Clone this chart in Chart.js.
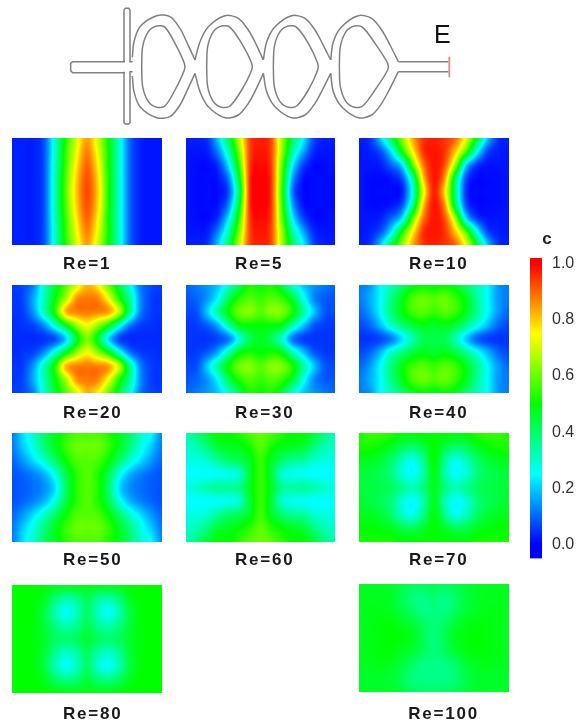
<!DOCTYPE html>
<html><head><meta charset="utf-8">
<script src="https://cdn.jsdelivr.net/npm/chart.js@4"></script>
<style>
html,body{margin:0;padding:0;background:#fff;width:583px;height:726px;overflow:hidden}
#wrap{position:relative;width:583px;height:726px;filter:blur(0.6px)}
.box{position:absolute}
canvas{display:block}
</style></head><body><div id="wrap"></div>
<script>
const colorStops=[0,0.25,0.5,0.75,1];
const colorRGB=[[0,0,255],[0,255,255],[0,255,0],[255,255,0],[255,0,0]];
const colorbarTicks=[0,0.2,0.4,0.6,0.8,1];

const re1=[
[.03,.03,.03,.08,.30,.52,.70,.84,.70,.50,.30,.10,.03,.02,.02],
[.03,.03,.03,.08,.30,.54,.73,.87,.73,.51,.30,.10,.03,.02,.02],
[.03,.03,.03,.08,.31,.55,.76,.90,.76,.51,.30,.10,.03,.02,.02],
[.03,.03,.03,.08,.32,.57,.79,.92,.79,.52,.30,.10,.03,.02,.02],
[.03,.03,.03,.08,.32,.58,.80,.93,.80,.52,.30,.10,.03,.02,.02],
[.03,.03,.03,.08,.32,.57,.79,.92,.79,.52,.30,.10,.03,.02,.02],
[.03,.03,.03,.08,.31,.55,.76,.90,.76,.51,.30,.10,.03,.02,.02],
[.03,.03,.03,.08,.30,.54,.73,.87,.73,.51,.30,.10,.03,.02,.02],
[.03,.03,.03,.08,.30,.52,.70,.84,.70,.50,.30,.10,.03,.02,.02]];
const re5=[
[.03,.03,.05,.20,.42,.68,.93,.97,.93,.66,.42,.25,.07,.03,.03],
[.02,.02,.03,.13,.33,.62,.93,.98,.93,.65,.35,.17,.04,.02,.02],
[.02,.01,.01,.05,.23,.55,.94,.99,.94,.60,.25,.07,.01,.01,.02],
[.02,.01,.01,.02,.13,.47,.95,1,.95,.57,.17,.02,.01,.01,.01],
[.02,.01,.01,.01,.08,.42,.95,1,.95,.55,.12,.01,.01,.01,.01],
[.02,.01,.01,.02,.13,.47,.95,1,.95,.57,.17,.02,.01,.01,.01],
[.02,.01,.01,.05,.23,.55,.94,.99,.94,.60,.25,.07,.01,.01,.02],
[.02,.02,.03,.13,.33,.62,.93,.98,.93,.65,.35,.17,.04,.02,.02],
[.03,.03,.05,.20,.42,.68,.93,.97,.93,.66,.42,.25,.07,.03,.03]];
const re10=[
[.03,.05,.20,.42,.63,.83,.95,.97,.95,.90,.72,.47,.20,.05,.03],
[.02,.03,.08,.23,.50,.75,.95,.98,.95,.80,.57,.27,.07,.03,.02],
[.02,.02,.03,.10,.22,.58,.88,.98,.92,.65,.22,.06,.02,.02,.02],
[.02,.01,.01,.02,.08,.35,.80,.98,.85,.42,.08,.01,.01,.01,.02],
[.02,.01,.01,.01,.03,.28,.72,.97,.78,.38,.05,.01,.01,.01,.02],
[.02,.01,.01,.02,.08,.35,.80,.98,.85,.42,.08,.01,.01,.01,.02],
[.02,.02,.03,.10,.22,.58,.88,.98,.92,.65,.22,.06,.02,.02,.02],
[.02,.03,.08,.23,.50,.75,.95,.98,.95,.80,.57,.27,.07,.03,.02],
[.03,.05,.20,.42,.63,.83,.95,.97,.95,.90,.72,.47,.20,.05,.03]];
const re20=[
[.06,.07,.13,.30,.45,.58,.70,.82,.76,.60,.45,.28,.12,.07,.06],
[.05,.07,.17,.32,.49,.66,.85,.88,.87,.74,.53,.35,.14,.06,.05],
[.05,.06,.15,.32,.52,.81,.87,.88,.87,.84,.68,.36,.13,.06,.05],
[.04,.05,.07,.14,.29,.47,.64,.74,.64,.50,.29,.12,.06,.05,.04],
[.04,.04,.04,.05,.08,.20,.45,.62,.47,.22,.07,.04,.04,.04,.04],
[.04,.05,.07,.14,.29,.47,.64,.74,.64,.50,.29,.12,.06,.05,.04],
[.05,.06,.15,.32,.52,.81,.87,.88,.87,.84,.68,.36,.13,.06,.05],
[.05,.07,.17,.32,.49,.66,.85,.88,.87,.74,.53,.35,.14,.06,.05],
[.06,.07,.13,.30,.45,.58,.70,.82,.76,.60,.45,.28,.12,.07,.06]];
const re30=[
[.10,.12,.15,.20,.30,.42,.52,.50,.52,.45,.30,.20,.15,.12,.10],
[.08,.10,.15,.25,.42,.53,.58,.55,.58,.55,.45,.28,.14,.09,.08],
[.07,.08,.20,.35,.50,.60,.63,.58,.63,.62,.52,.35,.20,.09,.07],
[.05,.06,.09,.17,.33,.48,.50,.50,.50,.48,.33,.20,.09,.06,.05],
[.05,.05,.05,.07,.12,.28,.42,.47,.42,.30,.12,.06,.05,.05,.05],
[.05,.06,.09,.17,.33,.48,.52,.50,.52,.48,.33,.20,.09,.06,.05],
[.07,.08,.20,.35,.50,.60,.63,.58,.63,.62,.52,.35,.20,.09,.07],
[.08,.10,.15,.25,.42,.53,.58,.55,.58,.55,.45,.28,.14,.09,.08],
[.10,.12,.15,.20,.30,.42,.52,.50,.52,.45,.30,.20,.15,.12,.10]];
const re40=[
[.12,.15,.25,.32,.40,.47,.50,.48,.50,.47,.40,.32,.25,.15,.12],
[.12,.17,.25,.37,.47,.57,.60,.58,.60,.55,.47,.35,.25,.15,.12],
[.10,.15,.25,.38,.48,.56,.58,.55,.58,.55,.47,.36,.25,.15,.10],
[.07,.10,.18,.30,.38,.44,.48,.46,.48,.44,.36,.27,.18,.10,.07],
[.05,.05,.07,.12,.22,.33,.42,.43,.42,.33,.20,.10,.06,.05,.05],
[.07,.10,.18,.30,.38,.44,.48,.46,.48,.44,.36,.27,.18,.10,.07],
[.10,.15,.25,.38,.48,.56,.58,.55,.58,.55,.47,.36,.25,.15,.10],
[.12,.17,.25,.37,.47,.57,.60,.58,.60,.55,.47,.35,.25,.15,.12],
[.12,.15,.25,.32,.40,.47,.50,.48,.50,.47,.40,.32,.25,.15,.12]];
const re50=[
[.12,.22,.30,.40,.47,.53,.57,.57,.57,.53,.47,.40,.30,.25,.13],
[.12,.20,.28,.38,.47,.55,.60,.60,.60,.55,.47,.38,.28,.20,.12],
[.10,.15,.22,.30,.40,.50,.57,.58,.57,.50,.40,.30,.22,.15,.10],
[.08,.10,.13,.18,.28,.43,.53,.58,.53,.43,.28,.18,.13,.10,.08],
[.08,.09,.11,.14,.22,.40,.53,.58,.53,.40,.22,.14,.11,.09,.08],
[.08,.10,.13,.18,.28,.43,.53,.58,.53,.43,.28,.18,.13,.10,.08],
[.10,.15,.22,.30,.40,.50,.57,.58,.57,.50,.40,.30,.22,.15,.10],
[.12,.20,.28,.38,.47,.55,.60,.60,.60,.55,.47,.38,.28,.20,.12],
[.12,.22,.30,.40,.47,.53,.57,.57,.57,.53,.47,.40,.30,.25,.13]];
const re60=[
[.33,.38,.45,.50,.50,.53,.57,.60,.57,.53,.50,.50,.45,.38,.33],
[.30,.33,.38,.45,.47,.48,.52,.58,.52,.48,.47,.45,.38,.33,.30],
[.28,.28,.30,.35,.40,.42,.47,.55,.47,.40,.36,.35,.30,.28,.28],
[.25,.25,.25,.26,.27,.30,.45,.55,.45,.30,.27,.26,.25,.25,.25],
[.28,.30,.33,.35,.35,.37,.47,.55,.47,.36,.34,.35,.33,.30,.28],
[.25,.25,.25,.26,.27,.30,.45,.55,.45,.30,.27,.26,.25,.25,.25],
[.28,.28,.30,.35,.40,.42,.47,.56,.47,.40,.36,.35,.30,.28,.28],
[.30,.33,.38,.45,.47,.50,.54,.59,.54,.50,.47,.45,.38,.33,.30],
[.33,.38,.45,.50,.50,.54,.58,.60,.58,.54,.50,.50,.45,.38,.33]];
const re70=[
[.52,.55,.55,.53,.50,.50,.50,.50,.50,.50,.50,.53,.55,.55,.52],
[.52,.52,.50,.47,.42,.40,.44,.50,.44,.40,.42,.47,.50,.52,.52],
[.48,.47,.45,.40,.32,.27,.36,.50,.36,.27,.32,.40,.45,.47,.48],
[.45,.44,.42,.38,.29,.25,.34,.48,.34,.25,.29,.38,.42,.44,.45],
[.45,.44,.43,.41,.36,.32,.38,.47,.38,.32,.36,.41,.43,.44,.45],
[.46,.44,.42,.38,.29,.25,.33,.47,.33,.25,.29,.38,.42,.44,.46],
[.48,.47,.45,.40,.31,.27,.37,.49,.37,.27,.32,.40,.45,.47,.48],
[.50,.50,.49,.47,.43,.42,.46,.50,.46,.42,.43,.47,.49,.50,.50],
[.52,.52,.52,.52,.50,.50,.50,.50,.50,.50,.50,.52,.52,.52,.52]];
const re80=[
[.50,.50,.50,.50,.48,.48,.48,.48,.48,.48,.48,.50,.50,.50,.50],
[.50,.50,.50,.47,.39,.34,.36,.42,.36,.34,.39,.47,.50,.50,.50],
[.50,.50,.49,.44,.33,.26,.31,.40,.31,.26,.33,.44,.49,.50,.50],
[.50,.50,.49,.45,.38,.33,.36,.42,.36,.33,.38,.45,.49,.50,.50],
[.50,.50,.49,.46,.41,.39,.41,.45,.41,.39,.41,.46,.49,.50,.50],
[.50,.50,.49,.45,.36,.31,.34,.41,.34,.31,.36,.45,.49,.50,.50],
[.50,.50,.49,.44,.33,.26,.31,.40,.30,.26,.33,.44,.49,.50,.50],
[.50,.50,.50,.47,.41,.37,.39,.44,.39,.37,.41,.47,.50,.50,.50],
[.50,.50,.50,.50,.49,.48,.48,.48,.48,.48,.49,.50,.50,.50,.50]];
const re100=[
[.47,.47,.47,.46,.44,.41,.41,.42,.41,.43,.45,.47,.47,.47,.47],
[.47,.47,.47,.46,.42,.38,.37,.39,.37,.40,.44,.46,.47,.47,.47],
[.47,.48,.48,.47,.44,.40,.37,.38,.37,.41,.45,.47,.48,.48,.47],
[.47,.48,.49,.49,.47,.45,.41,.38,.41,.45,.48,.49,.49,.48,.47],
[.47,.48,.49,.50,.49,.47,.42,.38,.42,.47,.49,.50,.49,.48,.47],
[.47,.48,.49,.49,.47,.45,.41,.38,.41,.45,.48,.49,.49,.48,.47],
[.47,.47,.48,.47,.44,.40,.37,.37,.37,.40,.45,.47,.48,.47,.47],
[.46,.46,.46,.45,.42,.38,.37,.37,.37,.39,.43,.46,.46,.46,.46],
[.46,.46,.46,.46,.44,.41,.40,.40,.40,.42,.44,.46,.46,.46,.46]];

const panelLabels=['Re=1','Re=5','Re=10','Re=20','Re=30','Re=40','Re=50','Re=60','Re=70','Re=80','Re=100'];
const panelValues=[re1,re5,re10,re20,re30,re40,re50,re60,re70,re80,re100];
const panelLeft=[12,186,359,12,186,359,12,186,359,12,359];
const panelTop=[138,138,138,285,285,285,433,433,433,585,584];
const panelWidth=[150,149,150,150,149,150,150,149,150,150,150];
const panelHeight=[107,107,107,108,108,108,109,109,109,108,108];
// label anchor in each panel's axis units (x: 0..14, y: 0..8)
const labelCol=[4.76,4.6,4.67,4.76,4.6,4.67,4.76,4.6,4.67,4.76,4.6];
const labelRow=[9.42,9.42,9.42,9.48,9.48,9.48,9.32,9.32,9.32,9.56,9.63];

// schematic outline, in its own axis units
const inletPath=[[225,185],[68,185],[62,190],[62,212],[68,218],[225,218]];
const barTop=[[222,185],[222,30],[226,25],[236,25],[240,30],[240,185],[248,185]];
const barBottom=[[222,215],[222,368],[226,372],[236,372],[240,368],[240,215],[248,215]];
const outletPath=[[1045,185],[1195,185]];
const outletPath2=[[1045,215],[1195,215]];
const lobeT1=[[247,172],[252,125],[270,80],[320,47],[360,50],[390,85],[412,130],[435,180]];
const lobeT2=[[435,180],[450,125],[475,80],[525,47],[565,55],[595,90],[617,130],[640,180]];
const lobeT3=[[640,180],[650,125],[675,80],[725,47],[765,55],[795,90],[817,130],[842,180]];
const lobeT4=[[842,180],[850,125],[875,80],[925,47],[965,55],[995,90],[1020,135],[1045,185]];
const lobeB1=[[247,228],[252,275],[270,320],[320,353],[360,350],[390,315],[412,270],[435,220]];
const lobeB2=[[435,220],[450,275],[475,320],[525,353],[565,345],[595,310],[617,270],[640,220]];
const lobeB3=[[640,220],[650,275],[675,320],[725,353],[765,345],[795,310],[817,270],[842,220]];
const lobeB4=[[842,220],[850,275],[875,320],[925,353],[965,345],[995,310],[1020,265],[1045,215]];
const loop1=[[275,200],[278,140],[295,95],[320,78],[345,82],[375,130],[403,190],[403,210],[375,270],[345,318],[320,322],[295,305],[278,260],[275,200]];
const loop2=[[470,200],[473,140],[490,95],[515,78],[540,82],[575,130],[605,190],[605,210],[575,270],[540,318],[515,322],[490,305],[473,260],[470,200]];
const loop3=[[670,200],[673,140],[690,95],[715,78],[740,82],[775,130],[803,190],[803,210],[775,270],[740,318],[715,322],[690,305],[673,260],[670,200]];
const loop4=[[868,200],[871,140],[888,95],[913,78],[938,82],[975,130],[1013,190],[1013,210],[975,270],[938,318],[913,322],[888,305],[871,260],[868,200]];
const outletMark=[[1198,170],[1198,232]];
const outletLabel={text:'E',x:1177,y:108};

const wrap=document.getElementById('wrap');
function mk(l,t,w,h){
  const d=document.createElement('div');d.className='box';
  d.style.cssText=`left:${l}px;top:${t}px;width:${w}px;height:${h}px`;
  const c=document.createElement('canvas');c.width=w;c.height=h;c.style.width=w+'px';c.style.height=h+'px';
  d.appendChild(c);wrap.appendChild(d);return c;
}
function cmap(v){
  v=Math.max(0,Math.min(1,v));
  let i=0;while(i<colorStops.length-2&&v>colorStops[i+1])i++;
  const f=(v-colorStops[i])/(colorStops[i+1]-colorStops[i]);
  return colorRGB[i].map((a,k)=>Math.round(a+(colorRGB[i+1][k]-a)*f));
}
function catmull(a,b,c,d,t){return 0.5*(2*b+(c-a)*t+(2*a-5*b+4*c-d)*t*t+(3*b-a-3*c+d)*t*t*t);}
function sample(g,u,v){
  const R=g.length,C=g[0].length;
  const j=Math.min(R-2,Math.max(0,Math.floor(v))),i=Math.min(C-2,Math.max(0,Math.floor(u)));
  const tx=u-i,ty=v-j,row=[];
  for(let k=-1;k<=2;k++){
    const r=g[Math.max(0,Math.min(R-1,j+k))];
    row.push(catmull(r[Math.max(0,i-1)],r[i],r[i+1],r[Math.min(C-1,i+2)],tx));
  }
  return catmull(row[0],row[1],row[2],row[3],ty);
}
const fieldPlugin={id:'field',
  afterDatasetsDraw(ch){
    const a=ch.chartArea,o=ch.config.options,g=o.fieldGrid;
    const W=Math.round(a.right-a.left),H=Math.round(a.bottom-a.top);
    const off=document.createElement('canvas');off.width=W;off.height=H;
    const oc=off.getContext('2d'),im=oc.createImageData(W,H);
    for(let y=0;y<H;y++){
      const v=ch.scales.y.getValueForPixel(a.top+y+.5);
      for(let x=0;x<W;x++){
        const u=ch.scales.x.getValueForPixel(a.left+x+.5);
        const c=cmap(sample(g,u,v)),p=(y*W+x)*4;
        im.data[p]=c[0];im.data[p+1]=c[1];im.data[p+2]=c[2];im.data[p+3]=255;
      }
    }
    oc.putImageData(im,0,0);
    const t=ch.ctx;t.save();
    t.drawImage(off,a.left,a.top,W,H);
    t.font='bold 17px "Liberation Sans"';t.letterSpacing='1.8px';t.fillStyle='#1a1a1a';t.textAlign='left';t.textBaseline='middle';
    t.fillText(o.fieldLabel.text,ch.scales.x.getPixelForValue(o.fieldLabel.x),ch.scales.y.getPixelForValue(o.fieldLabel.y));
    t.restore();
  }};

panelValues.forEach((grid,n)=>{
  const pts=[],cols=[];
  grid.forEach((r,j)=>r.forEach((v,i)=>{pts.push({x:i,y:j});const c=cmap(v);cols.push(`rgb(${c})`);}));
  const c=mk(panelLeft[n],panelTop[n],panelWidth[n],panelHeight[n]+33);
  new Chart(c,{type:'scatter',
    data:{datasets:[{data:pts,pointStyle:'rect',pointRadius:9,pointBackgroundColor:cols,pointBorderWidth:0}]},
    options:{responsive:false,animation:false,fieldGrid:grid,fieldLabel:{text:panelLabels[n],x:labelCol[n],y:labelRow[n]},
      layout:{autoPadding:false,padding:{left:0,right:0,top:0,bottom:33}},
      plugins:{legend:{display:false},tooltip:{enabled:false}},
      scales:{
        x:{type:'linear',display:false,min:0,max:grid[0].length-1},
        y:{type:'linear',display:false,reverse:true,min:0,max:grid.length-1}
      }},
    plugins:[fieldPlugin]});
});

// colour bar
const cbLeft=511,cbTop=230,cbW=72,cbH=348;
const barRange=[-0.05,1.021];
const cbTitle={id:'cbTitle',afterDatasetsDraw(ch){
  const t=ch.ctx;t.save();t.font='bold 17px "Liberation Sans"';t.fillStyle='#222';t.textAlign='center';t.textBaseline='middle';
  t.fillText('c',ch.scales.x.getPixelForValue(0)+11,ch.scales.y.getPixelForValue(barRange[1])-19);t.restore();
}};
new Chart(mk(cbLeft,cbTop,cbW,cbH),{type:'bar',
  data:{labels:['c'],datasets:[{data:[barRange],barPercentage:1,categoryPercentage:1,
    backgroundColor(ctx){
      const ch=ctx.chart,s=ch.scales.y;if(!ch.chartArea||!s)return '#00f';
      const y0=s.getPixelForValue(barRange[0]),y1=s.getPixelForValue(barRange[1]);
      const gr=ch.ctx.createLinearGradient(0,y0,0,y1);
      const span=barRange[1]-barRange[0];
      colorStops.forEach((st,i)=>{const c=colorRGB[i];gr.addColorStop(Math.max(0,Math.min(1,(st-barRange[0])/span)),`rgb(${c})`);});
      return gr;
    }}]},
  options:{responsive:false,animation:false,
    layout:{autoPadding:false,padding:{left:19,right:0,top:28,bottom:0}},
    plugins:{legend:{display:false},tooltip:{enabled:false}},
    scales:{
      x:{display:false},
      y:{position:'right',min:barRange[0],max:barRange[1],grid:{display:false,drawTicks:false},border:{display:false},
        afterFit(s){s.width=41;},
        afterBuildTicks(s){s.ticks=colorbarTicks.map(v=>({value:v}));},
        ticks:{padding:10,color:'#333',font:{family:'"Liberation Sans"',size:16},callback:v=>Number(v).toFixed(1)}}
    }},
  plugins:[cbTitle]});

// channel schematic
const curved=[lobeT1,lobeT2,lobeT3,lobeT4,lobeB1,lobeB2,lobeB3,lobeB4,loop1,loop2,loop3,loop4];
const straight=[inletPath,barTop,barBottom,outletPath,outletPath2];
const labelPlugin={id:'lab',afterDatasetsDraw(ch){
  const x=ch.scales.x.getPixelForValue(outletLabel.x),y=ch.scales.y.getPixelForValue(outletLabel.y);
  const t=ch.ctx;t.save();t.font='25px "Liberation Sans"';t.fillStyle='#111';t.textAlign='center';t.textBaseline='middle';t.fillText(outletLabel.text,x,y);t.restore();
}};
const ds=(p,ten,col,w)=>({data:p.map(q=>({x:q[0],y:q[1]})),showLine:true,tension:ten,pointRadius:0,borderColor:col,borderWidth:w,fill:false});
new Chart(mk(50,0,420,130),{type:'scatter',
  data:{datasets:curved.map(p=>ds(p,.3,'#808080',1.5)).concat(straight.map(p=>ds(p,0,'#808080',1.5))).concat([ds(outletMark,0,'#d98a8a',1.8)])},
  options:{responsive:false,animation:false,layout:{autoPadding:false,padding:0},
    plugins:{legend:{display:false},tooltip:{enabled:false}},
    scales:{x:{type:'linear',display:false,min:0,max:1260},y:{type:'linear',display:false,reverse:true,min:0,max:390}}},
  plugins:[labelPlugin]});
</script></body></html>
